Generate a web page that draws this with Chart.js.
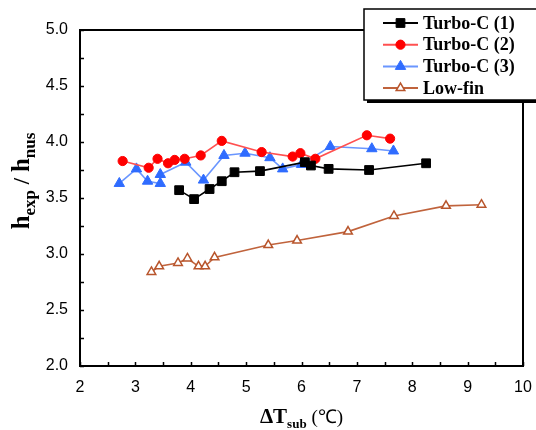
<!DOCTYPE html>
<html><head><meta charset="utf-8">
<script src="https://cdn.jsdelivr.net/npm/chart.js@4/dist/chart.umd.min.js"></script>
<style>html,body{margin:0;padding:0;background:#fff;}</style>
</head><body>
<canvas id="c" width="536" height="430"></canvas>
<script>
// ---- data ----
const seriesNames = ['Turbo-C (1)', 'Turbo-C (2)', 'Turbo-C (3)', 'Low-fin'];
const turbo1X = [3.79, 4.06, 4.34, 4.56, 4.79, 5.25, 6.06, 6.17, 6.49, 7.22, 8.25];
const turbo1Y = [3.57, 3.49, 3.58, 3.65, 3.73, 3.74, 3.82, 3.79, 3.76, 3.75, 3.81];
const turbo2X = [2.77, 3.24, 3.40, 3.59, 3.71, 3.89, 4.18, 4.56, 5.28, 5.84, 5.98, 6.25, 7.18, 7.60];
const turbo2Y = [3.83, 3.77, 3.85, 3.81, 3.84, 3.85, 3.88, 4.01, 3.91, 3.87, 3.90, 3.85, 4.06, 4.03];
const turbo3X = [2.71, 3.02, 3.22, 3.45, 3.45, 3.91, 4.23, 4.60, 4.98, 5.43, 5.66, 6.00, 6.52, 7.27, 7.66];
const turbo3Y = [3.63, 3.76, 3.65, 3.63, 3.71, 3.82, 3.66, 3.88, 3.90, 3.86, 3.76, 3.80, 3.96, 3.94, 3.92];
const lowfinX = [3.29, 3.43, 3.77, 3.94, 4.14, 4.26, 4.43, 5.40, 5.92, 6.84, 7.67, 8.61, 9.25];
const lowfinY = [2.84, 2.89, 2.92, 2.96, 2.89, 2.89, 2.97, 3.08, 3.12, 3.20, 3.34, 3.43, 3.44];
const xTickValues = [2, 3, 4, 5, 6, 7, 8, 9, 10];
const yTickValues = [2.0, 2.5, 3.0, 3.5, 4.0, 4.5, 5.0];

const pts = (xs, ys) => xs.map((x, i) => ({x: x, y: ys[i]}));

const styles = [
  {line: '#000000', point: '#000000', fill: '#000000', shape: 'rect', r: 6.2},
  {line: '#ff5050', point: '#ff0000', fill: '#ff0000', shape: 'circle', r: 4.6},
  {line: '#6a96ff', point: '#2f6cff', fill: '#2f6cff', shape: 'triangle', r: 6},
  {line: '#c0633c', point: '#b8552c', fill: '#ffffff', shape: 'triangle', r: 5}
];
const seriesData = [pts(turbo1X, turbo1Y), pts(turbo2X, turbo2Y), pts(turbo3X, turbo3Y), pts(lowfinX, lowfinY)];

const datasets = seriesData.map((d, i) => ({
  label: seriesNames[i],
  data: d,
  showLine: true,
  borderColor: styles[i].line,
  borderWidth: 1.6,
  pointStyle: styles[i].shape,
  pointRadius: styles[i].r,
  pointBackgroundColor: styles[i].fill,
  pointBorderColor: styles[i].point,
  pointBorderWidth: i === 3 ? 1.5 : 1,
  tension: 0
}));

function drawParts(ctx, parts, cx, cy) {
  let w = 0;
  parts.forEach(p => { ctx.font = p.font; p.w = ctx.measureText(p.t).width; w += p.w; });
  let x = cx - w / 2;
  parts.forEach(p => { ctx.font = p.font; ctx.fillText(p.t, x, cy + (p.dy || 0)); x += p.w; });
}

const decor = {
  id: 'decor',
  afterDatasetsDraw(chart) {
    const ctx = chart.ctx, a = chart.chartArea;
    const xs = chart.scales.x, ys = chart.scales.y;
    ctx.save();
    ctx.strokeStyle = '#000';
    ctx.lineWidth = 2;
    ctx.strokeRect(a.left, a.top, a.right - a.left, a.bottom - a.top);
    ctx.lineWidth = 1.5;
    ctx.beginPath();
    for (let v = 2; v <= 10.001; v += 0.5) {
      const px = Math.round(xs.getPixelForValue(v)) + 0.5;
      ctx.moveTo(px, a.bottom); ctx.lineTo(px, a.bottom - 4);
    }
    for (let v = 2; v <= 5.001; v += 0.25) {
      const py = Math.round(ys.getPixelForValue(v)) + 0.5;
      ctx.moveTo(a.left, py); ctx.lineTo(a.left + 4, py);
    }
    ctx.stroke();

    // axis titles
    ctx.fillStyle = '#000';
    ctx.textBaseline = 'alphabetic';
    ctx.textAlign = 'left';
    drawParts(ctx, [
      {t: '\u0394T', font: 'bold 21px "Liberation Serif"'},
      {t: 'sub', font: 'bold 13px "Liberation Serif"', dy: 5},
      {t: ' (\u2103)', font: '19px "Liberation Serif"'}
    ], (a.left + a.right) / 2, 423);

    ctx.save();
    ctx.translate(29, 181);
    ctx.rotate(-Math.PI / 2);
    drawParts(ctx, [
      {t: 'h', font: 'bold 25px "Liberation Serif"'},
      {t: 'exp', font: 'bold 17px "Liberation Serif"', dy: 6},
      {t: ' / ', font: 'bold 23px "Liberation Serif"'},
      {t: 'h', font: 'bold 25px "Liberation Serif"'},
      {t: 'nus', font: 'bold 17px "Liberation Serif"', dy: 6}
    ], 0, 0);
    ctx.restore();

    // legend
    const bx = 364, by = 9, bw = 180, bh = 91;
    ctx.fillStyle = '#000';
    ctx.fillRect(bx + 3, by + 3, bw, bh);
    ctx.fillStyle = '#fff';
    ctx.fillRect(bx, by, bw, bh);
    ctx.lineWidth = 1.5;
    ctx.strokeStyle = '#000';
    ctx.strokeRect(bx, by, bw, bh);
    chart.data.datasets.forEach((ds, i) => {
      const y = 23 + i * 21.7;
      ctx.strokeStyle = ds.borderColor;
      ctx.lineWidth = 2;
      ctx.beginPath(); ctx.moveTo(383, y); ctx.lineTo(418, y); ctx.stroke();
      ctx.fillStyle = ds.pointBackgroundColor;
      ctx.strokeStyle = ds.pointBorderColor;
      ctx.lineWidth = ds.pointBorderWidth;
      Chart.helpers.drawPoint(ctx, {pointStyle: ds.pointStyle, radius: ds.pointRadius, borderWidth: ds.pointBorderWidth, rotation: 0}, 400.5, y);
      ctx.fillStyle = '#000';
      ctx.font = 'bold 18px "Liberation Serif"';
      ctx.textBaseline = 'middle';
      ctx.fillText(ds.label, 423, y + 1);
    });
    ctx.restore();
  }
};

new Chart(document.getElementById('c'), {
  type: 'scatter',
  data: {datasets},
  options: {
    responsive: false,
    animation: false,
    devicePixelRatio: 1,
    layout: {padding: {top: 30, right: 13, left: 0, bottom: 0}},
    plugins: {legend: {display: false}, tooltip: {enabled: false}},
    scales: {
      x: {
        type: 'linear', min: 2, max: 10,
        afterBuildTicks: s => { s.ticks = xTickValues.map(v => ({value: v})); },
        afterFit: s => { s.height = 64; s.paddingLeft = 0; s.paddingRight = 0; },
        grid: {display: false, drawTicks: false},
        border: {display: false},
        ticks: {color: '#000', padding: 12, font: {family: '"Liberation Sans", Arial', size: 16}, maxRotation: 0}
      },
      y: {
        type: 'linear', min: 2, max: 5,
        afterBuildTicks: s => { s.ticks = yTickValues.map(v => ({value: v})); },
        afterFit: s => { s.width = 80; s.paddingTop = 0; s.paddingBottom = 0; },
        grid: {display: false, drawTicks: false},
        border: {display: false},
        ticks: {color: '#000', padding: 12, font: {family: '"Liberation Sans", Arial', size: 16}, callback: v => Number(v).toFixed(1)}
      }
    }
  },
  plugins: [decor]
});
</script>
</body></html>
